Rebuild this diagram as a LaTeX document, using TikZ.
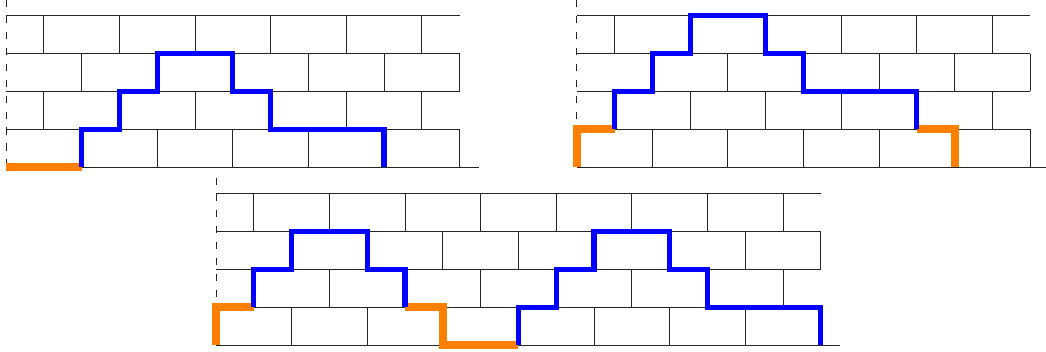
\documentclass[tikz,border=0pt]{standalone}
\usepackage{xcolor}
\usepackage{tikz}
\definecolor{WBlue}{HTML}{0000FF}
\definecolor{WOrange}{HTML}{FF8000}
\definecolor{WGrid}{HTML}{262626}
% #1 = wall width in brick units (even)
\newcommand{\brickwall}[1]{%
  \foreach \r in {1,2,3,4} \draw[brick] (0,\r) -- (#1,\r);
  \draw[brick] (0,0) -- (#1+0.5,0);
  \foreach \x in {2,4,...,#1}
    \draw[brick] (\x,0) -- ++(0,1) (\x,2) -- ++(0,1)
                 (\x-1,1) -- ++(0,1) (\x-1,3) -- ++(0,1);
  \draw[walledge] (0,4.42) -- (0,0);
}

\begin{document}
\begin{tikzpicture}[
  brick/.style={draw=WGrid,line width=0.7pt},
  walledge/.style={draw=WGrid,line width=0.7pt,dash pattern=on 5.5pt off 6.5pt},
  climb/.style={draw=WBlue,line width=3.8pt,miter limit=4},
  ground/.style={draw=WOrange,line width=6pt}
]
  \useasboundingbox (0,0) rectangle (27.672,9.312);

  % top left wall
  \begin{scope}[shift={(0.159,4.894)}]
    \brickwall{12}
    \draw[ground] (0,0) -- (2,0);
    \draw[climb] (2,0) |- (3,1) |- (4,2) |- (6,3) |- (7,2) |- (10,1) -- (10,0);
  \end{scope}

  % top right wall
  \begin{scope}[shift={(15.257,4.894)}]
    \brickwall{12}
    \draw[ground] (0,0) |- (1,1);
    \draw[ground] (9,1) -| (10,0);
    \draw[climb] (1,1) |- (2,2) |- (3,3) |- (5,4) |- (6,3) |- (9,2) -- (9,1);
  \end{scope}

  % bottom wall
  \begin{scope}[shift={(5.714,0.185)}]
    \brickwall{16}
    \draw[ground] (0,0) |- (1,1);
    \draw[ground] (5,1) -| (6,0) -- (8,0);
    \draw[climb] (1,1) |- (2,2) |- (4,3) |- (5,2) -- (5,1);
    \draw[climb] (8,0) |- (9,1) |- (10,2) |- (12,3) |- (13,2) |- (16,1) -- (16,0);
  \end{scope}
\end{tikzpicture}
\end{document}
